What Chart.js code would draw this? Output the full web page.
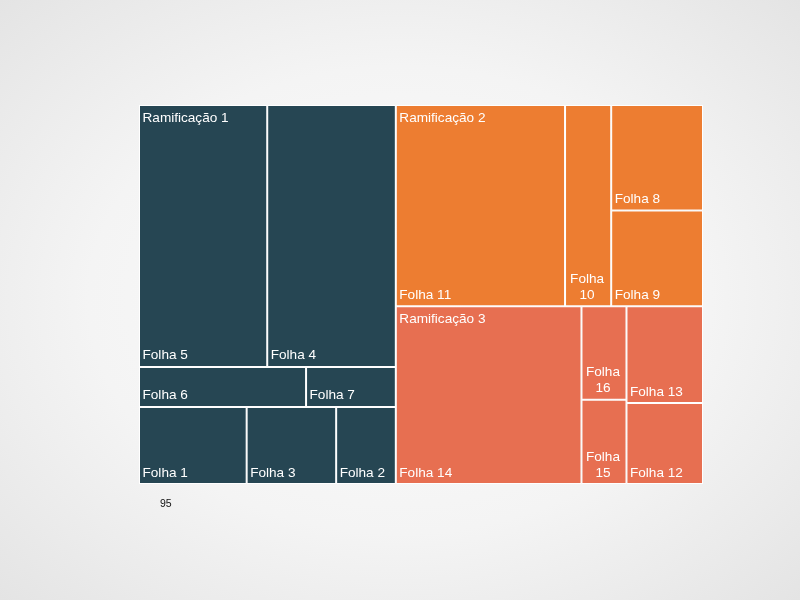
<!DOCTYPE html>
<html>
<head>
<meta charset="utf-8">
<script src="https://cdn.jsdelivr.net/npm/chart.js@4/dist/chart.umd.min.js"></script>
<style>
html,body{margin:0;padding:0;width:800px;height:600px;overflow:hidden;}
body{background:radial-gradient(ellipse farthest-corner at 50% 50%, #fcfcfc 0%, #f4f4f4 55%, #e4e4e4 100%);}
#wrap{position:relative;width:800px;height:600px;}
#note{position:absolute;left:160px;top:497px;font:10.5px "Liberation Sans",Arial,sans-serif;color:#111;}
</style>
</head>
<body>
<div id="wrap"><canvas id="c" width="800" height="600"></canvas><div id="note">95</div></div>
<script>
// ---- data ----
const branchNames = ['Ramificação 1', 'Ramificação 2', 'Ramificação 3'];
const branchStrip = [0, 1, 1];
const leafNames = ['Folha 5', 'Folha 4', 'Folha 6', 'Folha 7', 'Folha 1', 'Folha 3', 'Folha 2',
                   'Folha 11', 'Folha 10', 'Folha 8', 'Folha 9',
                   'Folha 14', 'Folha 16', 'Folha 15', 'Folha 13', 'Folha 12'];
const leafValues = [33.6, 33.7, 6.7, 3.6, 8.3, 6.9, 4.6,
                    34.1, 9.3, 9.7, 8.8,
                    33.0, 4.2, 3.8, 7.4, 6.2];
const leafBranch = [0, 0, 0, 0, 0, 0, 0, 1, 1, 1, 1, 2, 2, 2, 2, 2];
const leafStrip  = [0, 0, 1, 1, 2, 2, 2, 0, 1, 2, 2, 0, 1, 1, 2, 2];
const branchColors = ['#264653', '#ED7D31', '#E76F51'];

// ---- strip layout in data space ----
function split(rect, items, W, H) {
  const pw = (rect.x1 - rect.x0) * W, ph = (rect.y1 - rect.y0) * H;
  const wide = pw >= ph;
  const total = items.reduce((s, it) => s + it.v, 0);
  const strips = [];
  items.forEach(it => {
    let s = strips.find(st => st.key === it.strip);
    if (!s) { s = {key: it.strip, items: [], sum: 0}; strips.push(s); }
    s.items.push(it); s.sum += it.v;
  });
  const out = new Map();
  let cur = wide ? rect.x0 : rect.y0;
  strips.forEach(st => {
    const span = (wide ? rect.x1 - rect.x0 : rect.y1 - rect.y0) * st.sum / total;
    let c2 = wide ? rect.y0 : rect.x0;
    st.items.forEach(it => {
      const len = (wide ? rect.y1 - rect.y0 : rect.x1 - rect.x0) * it.v / st.sum;
      out.set(it.id, wide ? {x0: cur, x1: cur + span, y0: c2, y1: c2 + len}
                          : {x0: c2, x1: c2 + len, y0: cur, y1: cur + span});
      c2 += len;
    });
    cur += span;
  });
  return items.map(it => out.get(it.id));
}

class TreemapController extends Chart.DatasetController {
  update(mode) {
    const meta = this._cachedMeta;
    const xs = meta.xScale, ys = meta.yScale;
    const ds = this.getDataset();
    const values = ds.data;
    const W = xs.width, H = ys.height;
    const bItems = ds.groupNames.map((_, b) => ({
      id: b, strip: ds.groupStrip[b],
      v: values.reduce((s, v, i) => ds.group[i] === b ? s + v : s, 0)
    }));
    const bRects = split({x0: 0, y0: 0, x1: 1, y1: 1}, bItems, W, H);
    const leafRects = [];
    bRects.forEach((r, b) => {
      const items = values.map((v, i) => ({id: i, v, strip: ds.strip[i]})).filter(it => ds.group[it.id] === b);
      const rs = split(r, items, W, H);
      items.forEach((it, k) => { leafRects[it.id] = rs[k]; });
    });
    const toPx = r => ({
      left: xs.getPixelForValue(r.x0), right: xs.getPixelForValue(r.x1),
      top: ys.getPixelForValue(r.y0), bottom: ys.getPixelForValue(r.y1)
    });
    this.branchBoxes = bRects.map(toPx);
    meta.data.forEach((el, i) => {
      const p = toPx(leafRects[i]);
      Object.assign(el, {
        x: (p.left + p.right) / 2, y: p.top, base: p.bottom,
        width: p.right - p.left, height: p.bottom - p.top,
        horizontal: false, borderSkipped: {}, inflateAmount: 0,
        options: {
          backgroundColor: ds.colors[ds.group[i]],
          borderColor: '#ffffff', borderWidth: 1, borderRadius: 0
        }
      });
    });
  }
}
TreemapController.id = 'treemapx';
TreemapController.defaults = {datasetElementType: false, dataElementType: 'bar'};
TreemapController.overrides = {};
Chart.register(TreemapController);

const labelPlugin = {
  id: 'treeLabels',
  afterDatasetsDraw(chart) {
    const meta = chart.getDatasetMeta(0);
    const ctrl = meta.controller;
    const ctx = chart.ctx;
    ctx.save();
    ctx.fillStyle = '#ffffff';
    ctx.font = '13.6px "Liberation Sans", Arial, sans-serif';
    ctx.textBaseline = 'alphabetic';
    meta.data.forEach((el, i) => {
      const left = el.x - el.width / 2, right = el.x + el.width / 2, bottom = el.base;
      const text = chart.data.labels[i];
      if (ctx.measureText(text).width <= right - left - 8) {
        ctx.textAlign = 'left';
        ctx.fillText(text, left + 3.5, bottom - 7.5);
      } else {
        const words = text.split(' ');
        ctx.textAlign = 'center';
        const cx = (left + right) / 2 - 1;
        words.forEach((w, k) => ctx.fillText(w, cx, bottom - 7.5 - (words.length - 1 - k) * 15.7));
      }
    });
    ctx.textAlign = 'left';
    ctrl.branchBoxes.forEach((b, k) => ctx.fillText(branchNames[k], b.left + 3.5, b.top + 16.5));
    ctx.restore();
  }
};

new Chart(document.getElementById('c'), {
  type: 'treemapx',
  data: {
    labels: leafNames,
    datasets: [{
      data: leafValues, group: leafBranch, strip: leafStrip,
      groupNames: branchNames, groupStrip: branchStrip, colors: branchColors
    }]
  },
  options: {
    responsive: false, animation: false, events: [],
    layout: {padding: {left: 139, top: 105, right: 97, bottom: 116}},
    scales: {
      x: {type: 'linear', min: 0, max: 1, display: false},
      y: {type: 'linear', min: 0, max: 1, reverse: true, display: false}
    },
    plugins: {legend: {display: false}, tooltip: {enabled: false}}
  },
  plugins: [labelPlugin]
});
</script>
</body>
</html>
